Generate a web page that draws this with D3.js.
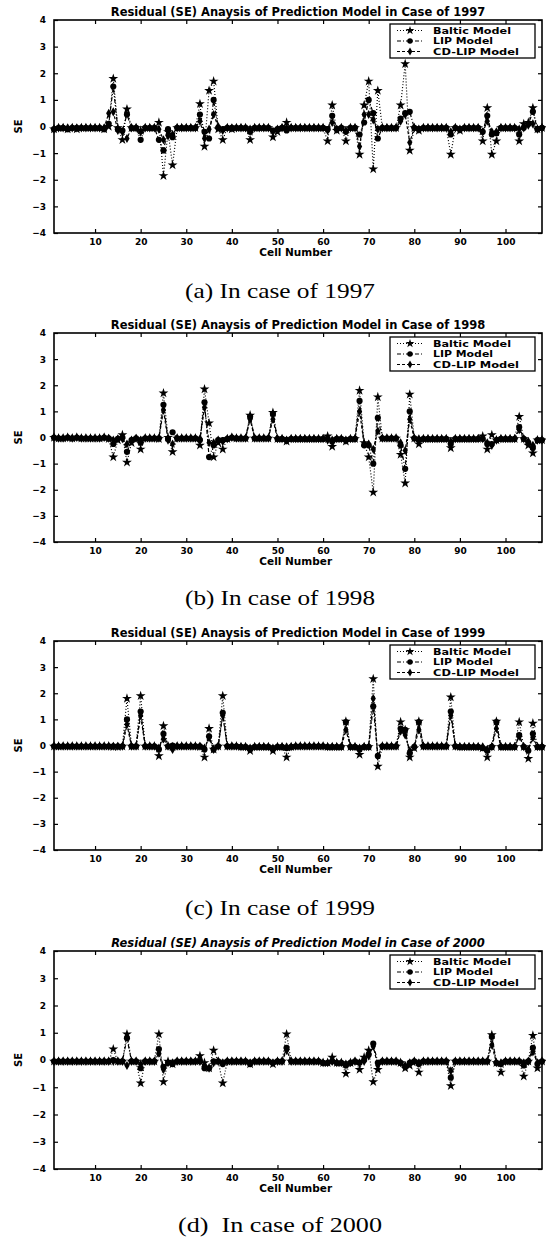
<!DOCTYPE html>
<html lang="en">
<head>
<meta charset="UTF-8">
<title>Residual (SE) Anaysis of Prediction Model</title>
<script src="https://d3js.org/d3.v7.min.js"></script>
<style>
  body { margin: 0; background: #fff; }
  svg text { font-family: "DejaVu Sans", sans-serif; font-weight: bold; fill: #000; }
  svg text.caption { font-family: "Liberation Serif", "DejaVu Serif", serif; font-weight: normal; font-size: 21px; white-space: pre; }
</style>
</head>
<body>
<svg width="546" height="1238"></svg>
<script>
// cell numbers 1..108 on the x axis
const cells = d3.range(1, 109);
const xTicks = [10, 20, 30, 40, 50, 60, 70, 80, 90, 100];
const yTicks = [-4, -3, -2, -1, 0, 1, 2, 3, 4];
const seriesNames = ["Baltic Model", "LIP Model", "CD-LIP Model"];
const years = ["1997", "1998", "1999", "2000"];
const captions = ["(a) In case of 1997", "(b) In case of 1998", "(c) In case of 1999", "(d)  In case of 2000"];

// ---- 1997 ----
const baltic1997 = [
  -0.1,-0.05,-0.05,-0.1,-0.05,-0.1,-0.05,-0.05,-0.05,-0.05,-0.05,-0.1,
  0,1.8,-0.05,-0.5,0.65,-0.05,-0.05,-0.15,-0.05,-0.05,-0.05,0.15,
  -1.85,-0.2,-1.45,-0.05,-0.05,-0.05,-0.05,-0.05,0.85,-0.75,1.35,1.7,
  -0.1,-0.5,-0.05,-0.1,-0.05,-0.05,-0.05,-0.5,-0.05,-0.05,-0.05,-0.05,
  -0.4,-0.2,-0.05,0.15,-0.05,-0.05,-0.05,-0.05,-0.05,-0.05,-0.05,-0.05,
  -0.55,0.8,-0.15,-0.05,-0.55,-0.05,-0.05,-1.05,0.8,1.7,-1.6,1.35,
  -0.05,-0.05,-0.05,-0.05,0.8,2.35,-0.9,-0.05,-0.15,-0.05,-0.05,-0.05,
  -0.05,-0.05,-0.05,-1.05,-0.05,-0.15,-0.05,-0.05,-0.05,-0.05,-0.55,0.7,
  -1.05,-0.55,-0.05,-0.05,-0.05,-0.05,-0.55,0.1,0.15,0.7,-0.1,-0.05];
const lip1997 = [
  -0.1,-0.05,-0.05,-0.1,-0.05,-0.05,-0.05,-0.05,-0.05,-0.05,-0.05,-0.1,
  0.1,1.5,-0.1,-0.15,0.45,-0.05,-0.05,-0.5,-0.05,-0.05,-0.05,-0.5,
  -0.9,-0.1,-0.4,-0.05,-0.05,-0.05,-0.05,-0.05,0.45,-0.2,-0.45,1.0,
  -0.05,-0.1,-0.05,-0.05,-0.05,-0.05,-0.05,-0.2,-0.05,-0.05,-0.05,-0.05,
  -0.15,-0.1,-0.05,-0.15,-0.05,-0.05,-0.05,-0.05,-0.05,-0.05,-0.05,-0.05,
  -0.1,0.4,-0.1,-0.05,-0.2,-0.05,-0.05,-0.3,0.15,1.0,0.5,-0.45,
  -0.05,-0.05,-0.05,-0.05,0.3,0.5,0.55,-0.05,-0.1,-0.05,-0.05,-0.05,
  -0.05,-0.05,-0.05,-0.3,-0.05,-0.1,-0.05,-0.05,-0.05,-0.05,-0.2,0.4,
  -0.3,-0.25,-0.05,-0.05,-0.05,-0.05,-0.3,-0.05,0.1,0.55,-0.1,-0.05];
const cdlip1997 = [
  -0.1,-0.05,-0.05,-0.05,-0.05,-0.05,-0.05,-0.05,-0.05,-0.05,-0.05,-0.05,
  0.5,0.55,-0.15,-0.2,-0.45,-0.05,-0.05,-0.2,-0.05,-0.05,-0.05,-0.1,
  -0.5,-0.35,-0.3,-0.05,-0.05,-0.05,-0.05,-0.05,0.2,-0.45,-0.1,0.45,
  0,-0.15,-0.05,-0.05,-0.05,-0.05,-0.05,-0.1,-0.05,-0.05,-0.05,-0.05,
  -0.2,-0.1,-0.05,-0.05,-0.05,-0.05,-0.05,-0.05,-0.05,-0.05,-0.05,-0.05,
  -0.15,0.15,-0.1,-0.05,-0.15,-0.05,-0.05,-0.75,0.45,0.45,0.25,-0.1,
  -0.05,-0.05,-0.05,-0.05,0.2,0.45,-0.6,-0.05,-0.1,-0.05,-0.05,-0.05,
  -0.05,-0.05,-0.05,-0.2,-0.05,-0.1,-0.05,-0.05,-0.05,-0.05,-0.2,0.2,
  -0.2,-0.2,-0.05,-0.05,-0.05,-0.05,-0.1,-0.05,0.05,0.1,-0.1,-0.05];

// ---- 1998 ----
const baltic1998 = [
  0,-0.03,-0.03,0,-0.03,0,-0.03,-0.03,-0.03,-0.03,-0.03,0,
  -0.05,-0.75,-0.1,0.1,-0.95,-0.2,-0.05,-0.45,-0.03,-0.03,-0.03,-0.05,
  1.7,0,-0.55,-0.03,-0.03,-0.03,-0.03,-0.03,-0.3,1.85,0.55,-0.75,
  -0.2,-0.45,-0.05,0,-0.03,-0.03,-0.03,0.85,-0.03,-0.03,-0.03,-0.03,
  0.95,-0.05,-0.05,-0.15,-0.05,-0.05,-0.05,-0.05,-0.05,-0.05,-0.05,-0.05,
  0.05,-0.35,-0.05,-0.05,-0.15,-0.05,-0.05,1.8,-0.2,-0.75,-2.1,1.55,
  -0.03,-0.03,-0.03,-0.03,-0.65,-1.75,1.65,-0.03,-0.25,-0.05,-0.05,-0.05,
  -0.05,-0.05,-0.05,-0.4,-0.05,-0.05,-0.05,-0.05,-0.05,-0.05,0.05,-0.45,
  0.1,-0.1,-0.05,-0.05,-0.05,-0.05,0.8,-0.05,-0.3,-0.6,-0.1,-0.1];
const lip1998 = [
  0,-0.03,-0.03,0,-0.03,0,-0.03,-0.03,-0.03,-0.03,-0.03,0,
  -0.03,-0.25,-0.05,0,-0.55,-0.1,-0.03,-0.2,-0.03,-0.03,-0.03,-0.03,
  1.25,-0.05,0.2,-0.03,-0.03,-0.03,-0.03,-0.03,-0.1,1.35,-0.75,-0.3,
  -0.1,-0.1,-0.05,0,-0.03,-0.03,-0.03,0.8,-0.03,-0.03,-0.03,-0.03,
  0.9,-0.05,-0.05,-0.1,-0.05,-0.05,-0.05,-0.05,-0.05,-0.05,-0.05,-0.05,
  -0.05,-0.15,-0.05,-0.05,-0.1,-0.05,-0.05,1.4,-0.3,-0.3,-1.0,0.75,
  -0.03,-0.03,-0.03,-0.03,-0.3,-1.2,1.0,-0.03,-0.1,-0.05,-0.05,-0.05,
  -0.05,-0.05,-0.05,-0.25,-0.05,-0.05,-0.05,-0.05,-0.05,-0.05,-0.05,-0.25,
  -0.25,-0.1,-0.05,-0.05,-0.05,-0.05,0.4,-0.05,-0.2,-0.4,-0.1,-0.1];
const cdlip1998 = [
  0,-0.03,-0.03,0,-0.03,0,-0.03,-0.03,-0.03,-0.03,-0.03,0,
  -0.03,-0.1,-0.05,-0.05,-0.25,-0.1,-0.03,-0.1,-0.03,-0.03,-0.03,-0.03,
  1.05,-0.1,-0.25,-0.03,-0.03,-0.03,-0.03,-0.03,-0.05,1.15,-0.2,-0.2,
  -0.1,-0.15,-0.05,0,-0.03,-0.03,-0.03,0.7,-0.03,-0.03,-0.03,-0.03,
  0.7,-0.05,-0.05,-0.1,-0.05,-0.05,-0.05,-0.05,-0.05,-0.05,-0.05,-0.05,
  -0.1,-0.1,-0.05,-0.05,-0.1,-0.05,-0.05,1.0,-0.25,-0.25,-0.45,0.25,
  -0.03,-0.03,-0.03,-0.03,-0.2,-0.5,0.7,-0.03,-0.05,-0.05,-0.05,-0.05,
  -0.05,-0.05,-0.05,-0.15,-0.05,-0.05,-0.05,-0.05,-0.05,-0.05,-0.05,-0.2,
  -0.3,-0.1,-0.05,-0.05,-0.05,-0.05,0.3,-0.05,-0.15,-0.3,-0.1,-0.1];

// ---- 1999 ----
const baltic1999 = [
  -0.03,-0.03,-0.03,-0.03,-0.03,-0.03,-0.03,-0.03,-0.03,-0.03,-0.03,-0.03,
  -0.03,-0.05,-0.05,-0.03,1.8,-0.03,-0.03,1.9,-0.03,-0.03,-0.03,-0.4,
  0.75,-0.03,-0.05,-0.03,-0.03,-0.03,-0.03,-0.03,-0.05,-0.45,0.65,-0.15,
  -0.03,1.9,-0.03,-0.03,-0.03,-0.05,-0.05,-0.2,-0.05,-0.05,-0.05,-0.05,
  -0.2,-0.05,-0.05,-0.45,-0.05,-0.03,-0.03,-0.03,-0.03,-0.03,-0.03,-0.03,
  -0.05,-0.05,-0.05,-0.05,0.92,-0.05,-0.05,-0.35,-0.05,-0.05,2.55,-0.8,
  -0.03,-0.03,-0.03,-0.03,0.9,0.6,-0.45,-0.1,0.92,-0.03,-0.03,-0.03,
  -0.03,-0.03,-0.03,1.85,-0.03,-0.05,-0.05,-0.05,-0.05,-0.05,-0.1,-0.45,
  -0.05,0.92,-0.05,-0.05,-0.05,-0.05,0.9,-0.05,-0.5,0.85,-0.05,-0.05];
const lip1999 = [
  -0.03,-0.03,-0.03,-0.03,-0.03,-0.03,-0.03,-0.03,-0.03,-0.03,-0.03,-0.03,
  -0.03,-0.03,-0.03,-0.03,1.0,-0.03,-0.03,1.3,-0.03,-0.03,-0.03,-0.15,
  0.45,-0.03,0,-0.03,-0.03,-0.03,-0.03,-0.03,-0.03,-0.15,0.35,-0.15,
  -0.03,1.25,-0.03,-0.03,-0.03,-0.05,-0.05,-0.15,-0.05,-0.05,-0.05,-0.05,
  -0.15,-0.05,-0.05,-0.1,-0.05,-0.03,-0.03,-0.03,-0.03,-0.03,-0.03,-0.03,
  -0.05,-0.05,-0.05,-0.05,0.9,-0.05,-0.05,-0.15,-0.05,-0.05,1.5,-0.4,
  -0.03,-0.03,-0.03,-0.03,0.65,0.6,-0.3,-0.05,0.9,-0.03,-0.03,-0.03,
  -0.03,-0.03,-0.03,1.3,-0.03,-0.05,-0.05,-0.05,-0.05,-0.05,-0.1,-0.2,
  -0.05,0.9,-0.05,-0.05,-0.05,-0.05,0.4,-0.05,-0.2,0.45,-0.05,-0.05];
const cdlip1999 = [
  -0.03,-0.03,-0.03,-0.03,-0.03,-0.03,-0.03,-0.03,-0.03,-0.03,-0.03,-0.03,
  -0.03,-0.03,-0.03,-0.03,0.8,-0.03,-0.03,1.15,-0.03,-0.03,-0.03,-0.1,
  0.25,-0.03,-0.15,-0.03,-0.03,-0.03,-0.03,-0.03,-0.03,-0.1,0.3,-0.15,
  -0.03,1.15,-0.03,-0.03,-0.03,-0.05,-0.05,-0.1,-0.05,-0.05,-0.05,-0.05,
  -0.1,-0.05,-0.05,-0.05,-0.05,-0.03,-0.03,-0.03,-0.03,-0.03,-0.03,-0.03,
  -0.05,-0.05,-0.05,-0.05,0.6,-0.05,-0.05,-0.1,-0.05,-0.05,1.8,-0.4,
  -0.03,-0.03,-0.03,-0.03,0.55,0.4,-0.2,-0.05,0.6,-0.03,-0.03,-0.03,
  -0.03,-0.03,-0.03,1.15,-0.03,-0.05,-0.05,-0.05,-0.05,-0.05,-0.05,-0.15,
  -0.05,0.65,-0.05,-0.05,-0.05,-0.05,0.35,-0.05,-0.15,0.3,-0.05,-0.05];

// ---- 2000 ----
const baltic2000 = [
  -0.05,-0.05,-0.05,-0.05,-0.05,-0.05,-0.05,-0.05,-0.05,-0.05,-0.05,-0.05,
  -0.05,0.4,-0.05,-0.05,0.95,-0.05,-0.05,-0.85,-0.05,-0.05,-0.05,0.95,
  -0.8,-0.05,-0.15,-0.05,-0.05,-0.05,-0.05,-0.05,0.15,-0.1,-0.3,0.35,
  -0.05,-0.85,-0.05,-0.05,-0.05,-0.05,-0.05,-0.15,-0.05,-0.05,-0.05,-0.05,
  -0.15,-0.05,-0.05,0.95,-0.05,-0.05,-0.05,-0.05,-0.05,-0.05,-0.05,-0.1,
  -0.1,0.1,-0.1,-0.1,-0.5,-0.1,-0.05,-0.35,0.1,0.35,-0.8,-0.35,
  -0.05,-0.05,-0.05,-0.05,-0.1,-0.3,-0.2,-0.05,-0.45,-0.05,-0.05,-0.05,
  -0.05,-0.05,-0.05,-0.95,-0.05,-0.05,-0.05,-0.05,-0.05,-0.05,-0.05,-0.05,
  0.92,-0.1,-0.45,-0.05,-0.05,-0.05,-0.05,-0.6,-0.05,0.9,-0.3,-0.05];
const lip2000 = [
  -0.05,-0.05,-0.05,-0.05,-0.05,-0.05,-0.05,-0.05,-0.05,-0.05,-0.05,-0.05,
  -0.05,0,-0.05,-0.05,0.8,-0.05,-0.05,-0.3,-0.05,-0.05,-0.05,0.4,
  -0.25,-0.1,-0.15,-0.05,-0.05,-0.05,-0.05,-0.05,-0.05,-0.3,-0.3,-0.05,
  -0.05,-0.15,-0.05,-0.05,-0.05,-0.05,-0.05,-0.15,-0.05,-0.05,-0.05,-0.05,
  -0.1,-0.05,-0.05,0.45,-0.05,-0.05,-0.05,-0.05,-0.05,-0.05,-0.05,-0.1,
  -0.1,-0.05,-0.1,-0.1,-0.2,-0.1,-0.05,-0.1,0,0.2,0.6,-0.1,
  -0.05,-0.05,-0.05,-0.05,-0.1,-0.25,-0.1,-0.05,-0.15,-0.05,-0.05,-0.05,
  -0.05,-0.05,-0.05,-0.65,-0.05,-0.05,-0.05,-0.05,-0.05,-0.05,-0.05,-0.05,
  0.85,-0.1,-0.15,-0.05,-0.05,-0.05,-0.05,-0.2,-0.05,0.45,-0.15,-0.05];
const cdlip2000 = [
  -0.05,-0.05,-0.05,-0.05,-0.05,-0.05,-0.05,-0.05,-0.05,-0.05,-0.05,-0.05,
  -0.05,-0.05,-0.05,-0.05,-0.2,-0.05,-0.05,-0.15,-0.05,-0.05,-0.05,0.25,
  -0.35,-0.1,-0.1,-0.05,-0.05,-0.05,-0.05,-0.05,-0.05,-0.25,-0.3,-0.1,
  -0.05,-0.1,-0.05,-0.05,-0.05,-0.05,-0.05,-0.1,-0.05,-0.05,-0.05,-0.05,
  -0.1,-0.05,-0.05,0.35,-0.05,-0.05,-0.05,-0.05,-0.05,-0.05,-0.05,-0.1,
  -0.1,-0.05,-0.1,-0.1,-0.15,-0.1,-0.05,-0.1,-0.05,0.15,0.5,-0.2,
  -0.05,-0.05,-0.05,-0.05,-0.1,-0.2,-0.1,-0.05,-0.1,-0.05,-0.05,-0.05,
  -0.05,-0.05,-0.05,-0.4,-0.05,-0.05,-0.05,-0.05,-0.05,-0.05,-0.05,-0.05,
  0.55,-0.1,-0.1,-0.05,-0.05,-0.05,-0.05,-0.1,-0.05,0.3,-0.1,-0.05];

const panelSeries = [
  [baltic1997, lip1997, cdlip1997],
  [baltic1998, lip1998, cdlip1998],
  [baltic1999, lip1999, cdlip1999],
  [baltic2000, lip2000, cdlip2000]
];

// layout (page pixels)
const left = 54, right = 542;
const tops = [20, 333, 641, 951];
const bottoms = [233, 542, 850, 1169];
const captionY = [298, 605, 915, 1232];
const captionWidth = [190, 190, 190, 204];

const lineDash = ["1,2", "4,2,1,2", "3,2"];
const markerType = [d3.symbolStar, d3.symbolCircle, d3.symbolDiamond];
const markerSize = [30, 30, 24];

const svg = d3.select("svg");

const x = d3.scaleLinear().domain([1, 108]).range([left, right]);

panelSeries.forEach((series, p) => {
  const y = d3.scaleLinear().domain([-4, 4]).range([bottoms[p], tops[p]]);
  const g = svg.append("g");

  // title
  g.append("text")
    .attr("x", (left + right) / 2)
    .attr("y", tops[p] - 4)
    .attr("text-anchor", "middle")
    .style("font-size", "11.5px")
    .style("font-style", p === 3 ? "italic" : "normal")
    .text("Residual (SE) Anaysis of Prediction Model in Case of " + years[p]);

  // axes: ticks inside, on all four sides
  const tickLen = 4;
  g.append("g")
    .attr("transform", `translate(0,${bottoms[p]})`)
    .call(d3.axisBottom(x).tickValues(xTicks).tickSizeInner(-tickLen).tickSizeOuter(0).tickPadding(6))
    .call(a => a.select(".domain").remove())
    .call(a => a.selectAll("text").style("font-size", "9px").style("font-family", "DejaVu Sans").style("font-weight", "bold"));
  g.append("g")
    .attr("transform", `translate(0,${tops[p]})`)
    .call(d3.axisTop(x).tickValues(xTicks).tickSizeInner(-tickLen).tickSizeOuter(0).tickFormat(""))
    .call(a => a.select(".domain").remove());
  g.append("g")
    .attr("transform", `translate(${left},0)`)
    .call(d3.axisLeft(y).tickValues(yTicks).tickSizeInner(-tickLen).tickSizeOuter(0).tickPadding(8))
    .call(a => a.select(".domain").remove())
    .call(a => a.selectAll("text").style("font-size", "9px").style("font-family", "DejaVu Sans").style("font-weight", "bold"));
  g.append("g")
    .attr("transform", `translate(${right},0)`)
    .call(d3.axisRight(y).tickValues(yTicks).tickSizeInner(-tickLen).tickSizeOuter(0).tickFormat(""))
    .call(a => a.select(".domain").remove());
  g.selectAll(".tick line").attr("stroke", "#000").attr("stroke-width", 1.2);

  g.append("rect")
    .attr("x", left).attr("y", tops[p])
    .attr("width", right - left).attr("height", bottoms[p] - tops[p])
    .attr("fill", "none").attr("stroke", "#000").attr("stroke-width", 1.6);

  // axis labels
  g.append("text")
    .attr("x", x(54)).attr("y", bottoms[p] + 23)
    .attr("text-anchor", "middle").style("font-size", "10.5px")
    .text("Cell Number");
  g.append("text")
    .attr("transform", `translate(22,${y(0)}) rotate(-90)`)
    .attr("text-anchor", "middle").style("font-size", "10px")
    .text("SE");

  // series
  series.forEach((vals, s) => {
    const line = d3.line().x((d, i) => x(cells[i])).y(d => y(d));
    g.append("path")
      .attr("d", line(vals))
      .attr("fill", "none").attr("stroke", "#000")
      .attr("stroke-width", 1.2)
      .attr("stroke-dasharray", lineDash[s]);
    g.append("g").selectAll("path")
      .data(vals)
      .join("path")
      .attr("transform", (d, i) => `translate(${x(cells[i])},${y(d)})`)
      .attr("d", d3.symbol().type(markerType[s]).size(markerSize[s]))
      .attr("fill", "#000");
  });

  // legend
  const lg = g.append("g").attr("transform", `translate(390,${tops[p] + 4})`);
  lg.append("rect").attr("width", 145).attr("height", 34)
    .attr("fill", "#fff").attr("stroke", "#000").attr("stroke-width", 1.3);
  seriesNames.forEach((name, s) => {
    const ly = 6.5 + s * 10.5;
    lg.append("line").attr("x1", 7).attr("x2", 32).attr("y1", ly).attr("y2", ly)
      .attr("stroke", "#000").attr("stroke-width", 1.1).attr("stroke-dasharray", lineDash[s]);
    lg.append("path").attr("transform", `translate(20,${ly})`)
      .attr("d", d3.symbol().type(markerType[s]).size(markerSize[s] * 0.8)).attr("fill", "#000");
    lg.append("text").attr("x", 43).attr("y", ly).attr("dy", "0.35em")
      .style("font-size", "9.5px").attr("textLength", s === 1 ? 60 : s === 0 ? 78 : 86)
      .attr("lengthAdjust", "spacingAndGlyphs").text(name);
  });

  // caption
  svg.append("text")
    .attr("class", "caption")
    .attr("x", 280).attr("y", captionY[p])
    .attr("text-anchor", "middle")
    .attr("textLength", captionWidth[p])
    .attr("lengthAdjust", "spacingAndGlyphs")
    .text(captions[p]);
});
</script>
</body>
</html>
